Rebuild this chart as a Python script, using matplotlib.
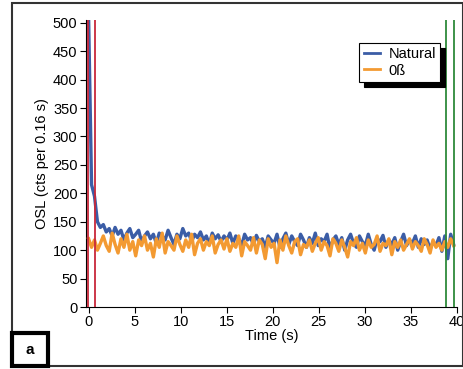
import numpy as np
import matplotlib
matplotlib.use("Agg")
import matplotlib.pyplot as plt
from matplotlib.patches import Rectangle

plt.rcParams["font.family"] = ["Liberation Sans", "DejaVu Sans"]

# OSL signal, one value per 0.32 s
natural = [510, 215, 195, 150, 140, 145, 132, 138, 125, 140, 128, 135, 118, 130, 138, 122,
           128, 135, 115, 125, 132, 120, 128, 112, 130, 125, 118, 135, 122, 110, 128, 120,
           138, 125, 130, 115, 128, 122, 132, 118, 125, 110, 130, 120, 127, 115, 125,
           118, 130, 112, 125, 120, 108, 128, 118, 122, 110, 126, 115, 120, 105, 125, 118,
           112, 128, 105, 120, 130, 110, 125, 115, 108, 128, 118, 105, 122, 112, 130, 108,
           120, 115, 128, 102, 118, 125, 110, 122, 100, 118, 128, 112, 105, 125, 115,
           108, 128, 110, 100, 120, 115, 126, 105, 118, 110, 122, 100, 115, 128, 108, 118,
           112, 125, 105, 120, 110, 118, 102, 115, 108, 122, 98, 125, 85, 128, 110]
zero_beta = [120, 105, 118, 100, 112, 125, 108, 98, 130, 110, 95, 120, 105, 128, 100, 115,
             90, 118, 108, 125, 100, 112, 88, 120, 105, 130, 95, 115, 108, 100, 125, 110,
             98, 118, 105, 128, 92, 112, 120, 100, 115, 108, 125, 95, 110, 118, 102,
             120, 98, 112, 105, 125, 90, 115, 108, 100, 122, 95, 118, 110, 85, 120, 105,
             112, 78, 118, 100, 125, 108, 95, 115, 120, 92, 110, 105, 118, 98, 112, 122,
             100, 115, 108, 90, 120, 112, 98, 118, 105, 88, 115, 108, 122, 100, 112,
             95, 118, 105, 110, 125, 98, 112, 108, 120, 92, 115, 105, 118, 100, 110, 120,
             102, 115, 108, 98, 120, 110, 95, 118, 105, 112, 100, 115, 105, 120, 108]
time = 0.32 * np.arange(len(natural))

red_marks = [-0.1, 0.65]
green_marks = [38.9, 39.7]

fig = plt.figure(figsize=(4.64, 3.69), dpi=100)
ax = fig.add_axes([0.185, 0.168, 0.8, 0.778])

ax.plot(time, natural, color="#3B5DA6", lw=2.4, label="Natural", zorder=3)
ax.plot(time, zero_beta, color="#F39A32", lw=2.4, label="0ß", zorder=4)
for x in red_marks:
    ax.axvline(x, color="#C8283A", lw=1.3, zorder=5)
for x in green_marks:
    ax.axvline(x, color="#2E8A3A", lw=1.3, zorder=5)

ax.set_xlim(-0.3, 40.05)
ax.set_ylim(0, 505)
ax.set_xticks(range(0, 41, 5))
ax.set_yticks(range(0, 501, 50))
for s in ["top", "right"]:
    ax.spines[s].set_visible(False)
ax.tick_params(direction="out", length=4, labelsize=10.5, pad=2)
ax.set_xlabel("Time (s)", fontsize=10.5, labelpad=0)
ax.set_ylabel("OSL (cts per 0.16 s)", fontsize=10.5, labelpad=3)

leg = ax.legend(loc="upper right", bbox_to_anchor=(0.975, 0.945), fontsize=10.5,
                frameon=True, fancybox=False, edgecolor="black", framealpha=1,
                handlelength=1.1, handletextpad=0.6, borderpad=0.3, labelspacing=0.15,
                shadow=dict(color="black", alpha=1, ox=3, oy=-3.5))
leg.get_frame().set_linewidth(0.8)
for line in leg.get_lines():
    line.set_linewidth(2)

# outer frame and panel label
fig.patches.append(Rectangle((12 / 464, 3 / 369), 451 / 464, 363 / 369, transform=fig.transFigure,
                             fill=False, ec="#333333", lw=1.5))
fig.patches.append(Rectangle((12 / 464, 3 / 369), 36 / 464, 33 / 369, transform=fig.transFigure,
                             fill=True, fc="white", ec="black", lw=3))
fig.text(30 / 464, 19 / 369, "a", ha="center", va="center", fontsize=11, fontweight="bold")

fig.savefig("out.png", dpi=100)
